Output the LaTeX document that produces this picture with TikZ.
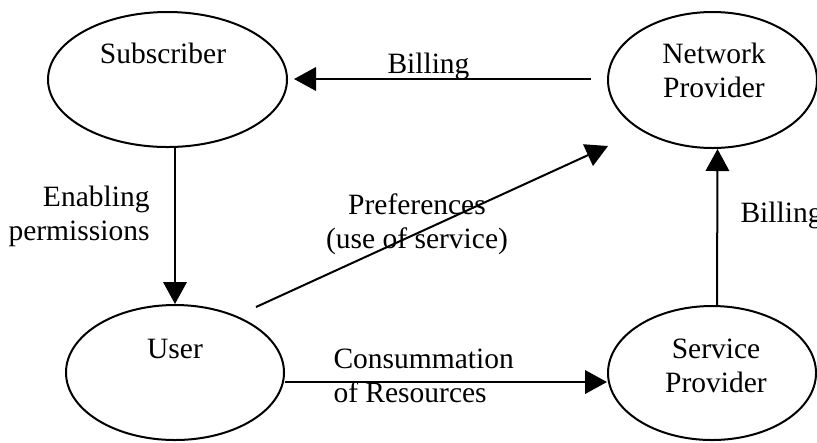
\documentclass[tikz,border=0pt]{standalone}
\usepackage{fontspec}
\setmainfont{Liberation Serif}
\usetikzlibrary{shapes.geometric,arrows.meta}
\tikzset{
  ell/.style={ellipse, draw, line width=0.8pt, inner sep=0pt},
  lbl/.style={inner sep=0pt, font=\fontsize{11.8}{13.6}\selectfont},
  arr/.style={line width=0.8pt, -{Triangle[length=8.8pt,width=9.4pt]}}
}
\begin{document}
\begin{tikzpicture}[x=0.4pt,y=-0.4pt]
\useasboundingbox (0,0) rectangle (817,442);
\clip (0,0) rectangle (817,442);
% ellipses
\node[ell, minimum width=95.6pt, minimum height=54pt] (sub) at (167.5,79.5) {};
\node[ell, minimum width=83.6pt, minimum height=54.4pt] (np) at (712.5,80) {};
\node[ell, minimum width=87.2pt, minimum height=54pt] (user) at (175,372.5) {};
\node[ell, minimum width=83.2pt, minimum height=53.6pt] (sp) at (712,373) {};
% ellipse texts (multi-line nodes: base = last line's baseline)
\node[lbl, anchor=base] (subt) at (163,63) {Subscriber};
\node[lbl, anchor=base, align=center] (npt) at (714,97) {Network\\Provider};
\node[lbl, anchor=base] (usert) at (175,358) {User};
\node[lbl, anchor=base, align=center] (spt) at (716,392) {Service\\Provider};
% free ends of the preferences arrow
\coordinate (ps) at (256,307);
\coordinate (pe) at (608,146);
% connectors
\draw[arr] ([xshift=-6.4pt,yshift=0.4pt]np.west) -- ([xshift=2.4pt,yshift=0.4pt]np.west -| sub.east);
\draw[arr] (user.north |- sub.south) -- (user.north);
\draw[arr] ([xshift=2pt]sp.north) -- ([xshift=2pt]np.south);
\draw[arr] ([yshift=-3.8pt]user.east) -- ([yshift=-3.8pt]user.east -| sp.west);
\draw[arr] (ps) -- (pe);
% connector labels
\node[lbl, anchor=base west] (bill1) at (387,73) {Billing};
\node[lbl, anchor=base east, align=right] (enab) at (150,240) {Enabling\\permissions};
\node[lbl, anchor=base, align=center] (pref) at (417,248) {Preferences\\(use of service)};
\node[lbl, anchor=base west, align=left] (cons) at (333,402) {Consummation\\of Resources};
\node[lbl, anchor=base west] (bill2) at (740,222) {Billing};
\end{tikzpicture}
\end{document}
